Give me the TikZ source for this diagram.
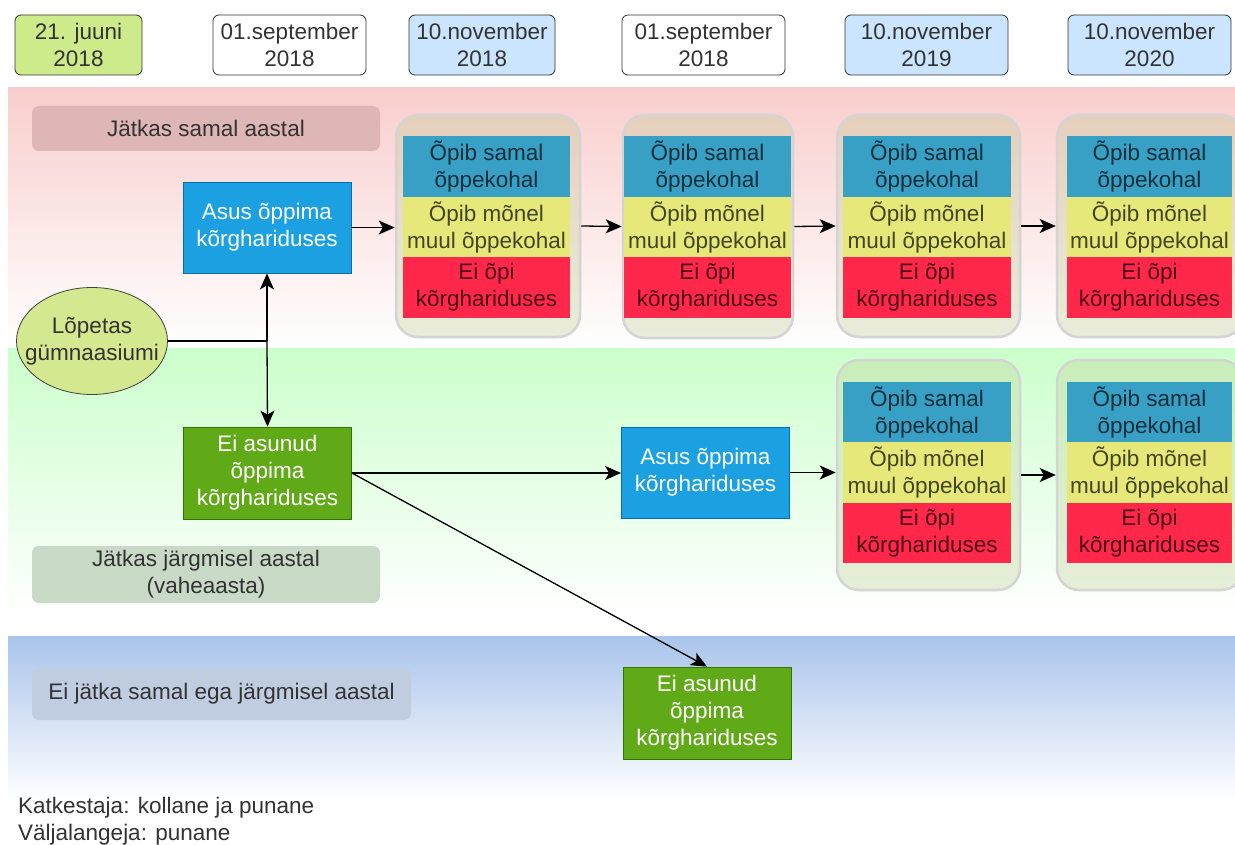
\documentclass[tikz,border=0pt]{standalone}
\usepackage{fontspec}
\setmainfont{Liberation Sans}
\usetikzlibrary{arrows.meta,shapes.geometric}
\definecolor{bandred}{HTML}{F8CECC}
\definecolor{bandgreen}{HTML}{CCFFCC}
\definecolor{bandblue}{HTML}{A9C4EB}
\definecolor{lblred}{HTML}{DFB6B6}
\definecolor{lblgreen}{HTML}{C8D9C6}
\definecolor{lblblue}{HTML}{C0CCE0}
\definecolor{dategreen}{HTML}{CDEB8B}
\definecolor{dateblue}{HTML}{CCE5FF}
\definecolor{ellgreen}{HTML}{D4E98F}
\definecolor{mblue}{HTML}{1BA1E2}
\definecolor{mbluedraw}{HTML}{006EAF}
\definecolor{mgreen}{HTML}{60A917}
\definecolor{mgreendraw}{HTML}{2D7600}
\definecolor{iblue}{HTML}{38A0C4}
\definecolor{iyellow}{HTML}{E6E87A}
\definecolor{ired}{HTML}{FF284B}
\definecolor{grpfill}{HTML}{B9C88C}
\definecolor{txt}{HTML}{333333}
\newcommand{\mystack}[4]{%
  \node[ibox, fill=iblue, minimum width=#3] (#1b) at (#2,#4+30.5) {Õpib samal\\õppekohal};
  \node[ibox, fill=iyellow, minimum width=#3] (#1y) at (#2,#4+91) {Õpib mõnel\\muul õppekohal};
  \node[ibox, fill=ired, minimum width=#3] (#1r) at (#2,#4+151.5) {Ei õpi\\kõrghariduses};
}
\begin{document}
\begin{tikzpicture}[x=1pt,y=-1pt,
  every node/.style={font=\fontsize{22.5}{27}\selectfont, align=center, inner sep=0pt},
  datebox/.style={draw=black!80, rounded corners=6pt, minimum height=60pt, line width=0.8pt, text=txt},
  lbl/.style={rounded corners=7pt, text=txt},
  mbox/.style={text=white, minimum width=168pt, minimum height=91pt, line width=0.8pt},
  ibox/.style={minimum height=60.5pt, text=black, text opacity=0.7},
  grp/.style={draw=black!17, line width=2.5pt, fill=grpfill, fill opacity=0.3, rounded corners=22pt},
  arr/.style={-{Stealth[length=16pt,width=14pt,inset=4pt]}, line width=1.3pt},
  conn/.style={line width=1.3pt}
]
\useasboundingbox (0,0) rectangle (1235,845);
\fill[white] (0,0) rectangle (1235,845);

% bands
\shade[top color=bandred, bottom color=white] (8,88) rectangle (1235,348);
\shade[top color=bandgreen, bottom color=white] (8,348) rectangle (1235,615);
\shade[top color=bandblue, bottom color=white] (8,636) rectangle (1235,800);

% date boxes
\node[datebox, fill=dategreen, minimum width=127pt] (d1) at (78.5,45) {21. juuni\\2018};
\node[datebox, fill=white, minimum width=153pt] (d2) at (289.5,45) {01.september\\2018};
\node[datebox, fill=dateblue, minimum width=146pt] (d3) at (482,45) {10.november\\2018};
\node[datebox, fill=white, minimum width=163pt] (d4) at (703.5,45) {01.september\\2018};
\node[datebox, fill=dateblue, minimum width=163pt] (d5) at (926.5,45) {10.november\\2019};
\node[datebox, fill=dateblue, minimum width=163pt] (d6) at (1149.5,45) {10.november\\2020};

% label boxes
\node[lbl, fill=lblred, minimum width=348pt, minimum height=45pt] (l1) at (206,128.5) {Jätkas samal aastal};
\node[lbl, fill=lblgreen, minimum width=348pt, minimum height=57pt] (l2) at (206,574.5) {Jätkas järgmisel aastal\\(vaheaasta)};
\node[lbl, fill=lblblue, minimum width=379pt, minimum height=52pt] (l3) at (221.5,694) {Ei jätka samal ega järgmisel aastal};

% group containers
\node[grp, minimum width=184pt, minimum height=222pt] (g1) at (488,226) {};
\node[grp, minimum width=170pt, minimum height=223pt] (g2) at (708,226.5) {};
\node[grp, minimum width=183pt, minimum height=222pt] (g3) at (928.5,226) {};
\node[grp, minimum width=186pt, minimum height=222pt] (g4) at (1150,226) {};
\node[grp, minimum width=183pt, minimum height=230pt] (m1) at (928.5,475) {};
\node[grp, minimum width=186pt, minimum height=230pt] (m2) at (1150,475) {};

\mystack{g1}{486.5}{167pt}{136}
\mystack{g2}{707.5}{167pt}{136}
\mystack{g3}{927}{168pt}{136}
\mystack{g4}{1149.5}{165pt}{136}
\mystack{m1}{927}{168pt}{381.5}
\mystack{m2}{1149.5}{165pt}{381.5}

% ellipse
\node[ellipse, draw=black!75, line width=0.8pt, fill=ellgreen, minimum width=151pt, minimum height=107pt] (ell) at (92,341) {};
\node[text=txt] (elltext) at (ell.center) {Lõpetas\\gümnaasiumi};

% main boxes
\node[mbox, fill=mblue, draw=mbluedraw] (asus1) at (267,227.5) {Asus õppima\\kõrghariduses};
\node[mbox, fill=mgreen, draw=mgreendraw, minimum height=92pt] (eia1) at (267.5,473) {Ei asunud\\õppima\\kõrghariduses};
\node[mbox, fill=mblue, draw=mbluedraw] (asus2) at (705.5,472.5) {Asus õppima\\kõrghariduses};
\node[mbox, fill=mgreen, draw=mgreendraw, minimum height=92pt] (eia2) at (707,713) {Ei asunud\\õppima\\kõrghariduses};

% connectors
\draw[conn] (ell.east) -- (ell.east -| asus1.south) coordinate (j);
\draw[arr] (j) -- (asus1.south);
\draw[arr] (j) -- (eia1.north);
\draw[arr] (asus1.east) -- (asus1.east -| g1.west);
\draw[arr] (g1.east) -- (g2.west);
\draw[arr] (g2.east) -- (g3.west);
\draw[arr] (g3.east) -- (g4.west);
\draw[arr] (eia1.east) -- (eia1.east -| asus2.west);
\draw[arr] (asus2.east) -- (asus2.east -| m1.west);
\draw[arr] (m1.east) -- (m2.west);
\draw[arr] (eia1.east) -- (eia2.north);

% legend
\node[anchor=base west, text=txt] (leg1) at (18,813) {Katkestaja: kollane ja punane};
\node[anchor=base west, text=txt] (leg2) at (18,840) {Väljalangeja: punane};
\end{tikzpicture}
\end{document}
